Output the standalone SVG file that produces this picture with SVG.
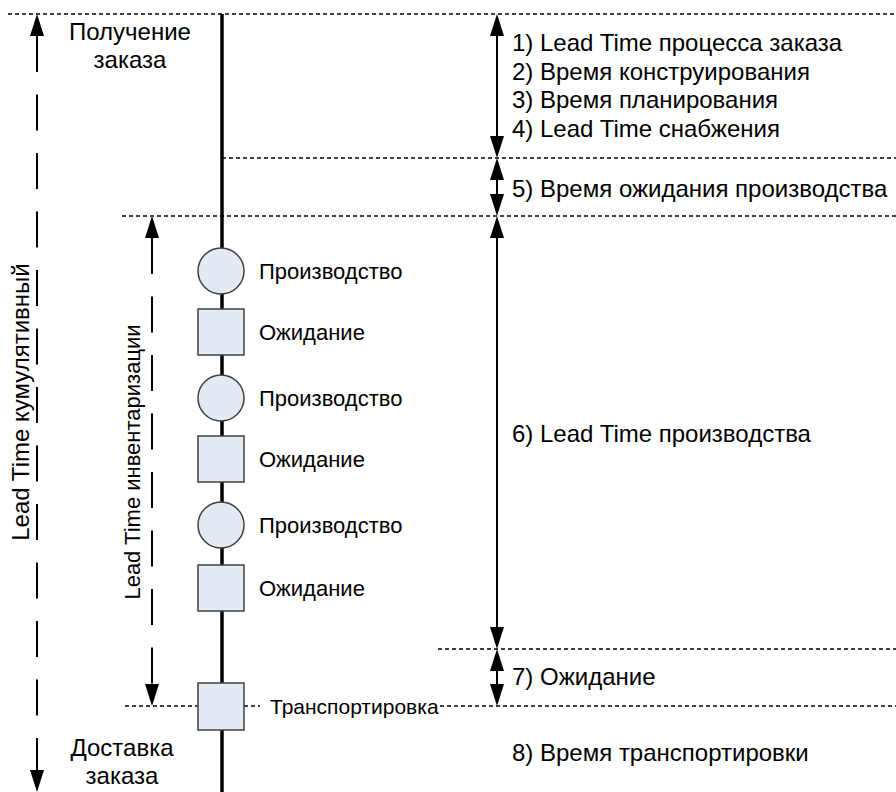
<svg xmlns="http://www.w3.org/2000/svg" width="896" height="792" viewBox="0 0 896 792">
  <style>
    text { font-family: "Liberation Sans", Arial, sans-serif; font-size: 22px; fill: #000; }
    .big { font-size: 24px; }
    .mid { text-anchor: middle; }
    .dot { stroke: #000; stroke-width: 1.5; stroke-dasharray: 4 3; fill: none; }
    .dash { stroke: #000; stroke-width: 2; stroke-dasharray: 36 22.5; fill: none; }
    .arr { stroke: #000; stroke-width: 2; fill: none; }
    .node { fill: #E4EAF4; stroke: #404040; stroke-width: 1.5; }
    .spine { stroke: #000; stroke-width: 3.5; fill: none; }
  </style>
  <defs>
    <marker id="head" markerUnits="userSpaceOnUse" markerWidth="22" markerHeight="14" refX="0" refY="7" orient="auto-start-reverse" viewBox="0 0 22 14">
      <path d="M0,0 L22,7 L0,14 z" fill="#000"/>
    </marker>
  </defs>
  <rect width="896" height="792" fill="#fff"/>

  <g id="connectors">
    <line class="dot" x1="8" y1="14" x2="896" y2="14"/>
    <line class="dot" x1="222" y1="158" x2="896" y2="158"/>
    <line class="dot" x1="122" y1="216" x2="896" y2="216"/>
    <line class="dot" x1="438" y1="649" x2="896" y2="649"/>
    <line class="dot" x1="125" y1="706" x2="896" y2="706"/>
    <rect x="260" y="694" width="179" height="26" fill="#fff"/>
    <line class="spine" x1="222" y1="14" x2="222" y2="792"/>
    <line class="dash" x1="37" y1="36" x2="37" y2="770" marker-start="url(#head)" marker-end="url(#head)"/>
    <line class="dash" x1="152" y1="238" x2="152" y2="684" marker-start="url(#head)" marker-end="url(#head)"/>
    <line class="arr" x1="497" y1="36" x2="497" y2="136" marker-start="url(#head)" marker-end="url(#head)"/>
    <line class="arr" x1="497" y1="180" x2="497" y2="194" marker-start="url(#head)" marker-end="url(#head)"/>
    <line class="arr" x1="497" y1="238" x2="497" y2="627" marker-start="url(#head)" marker-end="url(#head)"/>
    <line class="arr" x1="497" y1="671" x2="497" y2="684" marker-start="url(#head)" marker-end="url(#head)"/>
  </g>

  <g id="start">
    <text class="mid big" x="130" y="40">Получение</text>
    <text class="mid big" x="130" y="68">заказа</text>
  </g>
  <g id="end">
    <text class="mid big" x="122" y="756">Доставка</text>
    <text class="mid big" x="122" y="784">заказа</text>
  </g>

  <g id="lt-cumulative">
    <text class="mid big" transform="translate(29,402) rotate(-90)">Lead Time кумулятивный</text>
  </g>
  <g id="lt-inventory">
    <text class="mid" transform="translate(140,462) rotate(-90)">Lead Time инвентаризации</text>
  </g>

  <g id="prod1">
    <circle class="node" cx="221" cy="271" r="23"/>
    <text x="259" y="279">Производство</text>
  </g>
  <g id="wait1">
    <rect class="node" x="198" y="309" width="46" height="46"/>
    <text x="259" y="340">Ожидание</text>
  </g>
  <g id="prod2">
    <circle class="node" cx="221" cy="398" r="23"/>
    <text x="259" y="406">Производство</text>
  </g>
  <g id="wait2">
    <rect class="node" x="198" y="436" width="46" height="46"/>
    <text x="259" y="467">Ожидание</text>
  </g>
  <g id="prod3">
    <circle class="node" cx="221" cy="525" r="23"/>
    <text x="259" y="533">Производство</text>
  </g>
  <g id="wait3">
    <rect class="node" x="198" y="565" width="46" height="46"/>
    <text x="259" y="596">Ожидание</text>
  </g>
  <g id="transport">
    <rect class="node" x="198" y="683" width="46" height="47"/>
    <text x="270" y="714" style="font-size:21px">Транспортировка</text>
  </g>

  <g id="phases">
    <text class="big" x="512" y="51">1) Lead Time процесса заказа</text>
    <text class="big" x="512" y="80">2) Время конструирования</text>
    <text class="big" x="512" y="108">3) Время планирования</text>
    <text class="big" x="512" y="137">4) Lead Time снабжения</text>
    <text class="big" x="512" y="197">5) Время ожидания производства</text>
    <text class="big" x="512" y="442">6) Lead Time производства</text>
    <text class="big" x="512" y="685">7) Ожидание</text>
    <text class="big" x="512" y="761">8) Время транспортировки</text>
  </g>
</svg>
